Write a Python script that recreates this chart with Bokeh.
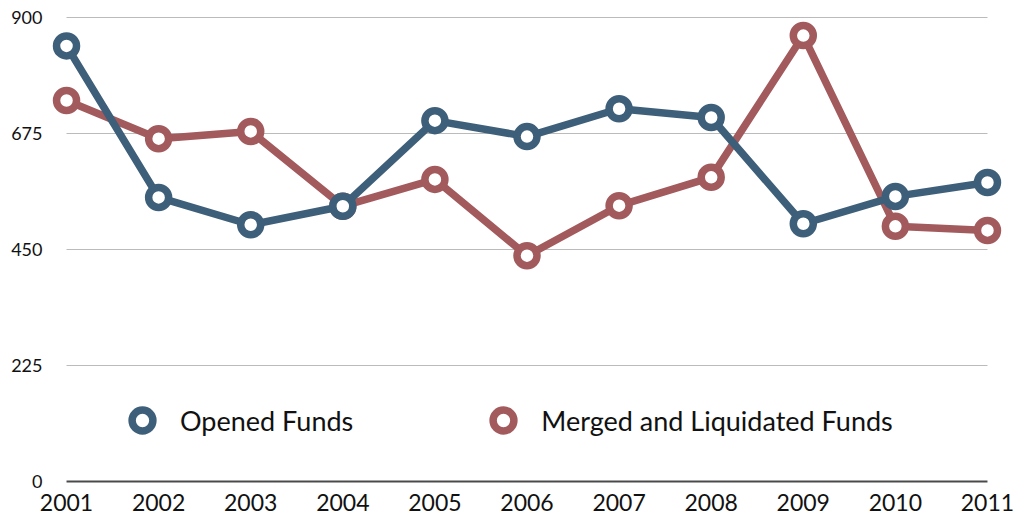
from bokeh.plotting import figure
from bokeh.models import Range1d, FixedTicker, Legend, LegendItem, ColumnDataSource
from bokeh.embed import file_html
from bokeh.resources import INLINE

years = [2001, 2002, 2003, 2004, 2005, 2006, 2007, 2008, 2009, 2010, 2011]
opened = [845, 551, 498, 534, 700, 669, 723, 706, 500, 553, 580]
merged = [739, 665, 679, 534, 586, 438, 535, 590, 865, 495, 487]
y_ticks = [0, 225, 450, 675, 900]

BLUE = "#3E5F79"
RED = "#A25A5D"
FONT = "Lato"

p = figure(width=1024, height=522, output_backend="svg", toolbar_location=None,
           x_range=Range1d(2000.75, 2011.25), y_range=Range1d(-5.8, 917.5),
           min_border_left=43, min_border_right=14, min_border_top=8, min_border_bottom=38)
p.outline_line_color = None
p.xgrid.visible = False
p.ygrid.visible = False

# gridlines spanning first to last year
grid_src = ColumnDataSource(dict(x0=[years[0]] * (len(y_ticks) - 1), x1=[years[-1]] * (len(y_ticks) - 1),
                                 y=y_ticks[1:]))
p.segment(x0="x0", x1="x1", y0="y", y1="y", source=grid_src, line_color="#BBBBBB", line_width=1.2)
p.segment(x0=[years[0]], x1=[years[-1]], y0=[y_ticks[0]], y1=[y_ticks[0]], line_color="#4A4A4A", line_width=2)

r_line = p.line(years, merged, line_color=RED, line_width=7.5)
r_pts = p.scatter(years, merged, size=20, fill_color="white", line_color=RED, line_width=7.5)
b_line = p.line(years, opened, line_color=BLUE, line_width=7.5)
b_pts = p.scatter(years, opened, size=20, fill_color="white", line_color=BLUE, line_width=7.5)

for ax in (p.xaxis[0], p.yaxis[0]):
    ax.axis_line_color = None
    ax.major_tick_line_color = None
    ax.minor_tick_line_color = None
    ax.major_tick_in = 0
    ax.major_tick_out = 0
    ax.minor_tick_in = 0
    ax.minor_tick_out = 0
    ax.major_label_text_font = FONT
    ax.major_label_text_color = "#111111"

p.xaxis[0].ticker = FixedTicker(ticks=years)
p.xaxis[0].major_label_overrides = {y: str(y) for y in years}
p.xaxis[0].major_label_text_font_size = "23px"
p.xaxis[0].major_label_standoff = 9
p.yaxis[0].ticker = FixedTicker(ticks=y_ticks)
p.yaxis[0].major_label_text_font_size = "18px"
p.yaxis[0].major_label_standoff = 1

legend = Legend(items=[LegendItem(label="Opened Funds", renderers=[b_pts]),
                       LegendItem(label="Merged and Liquidated Funds", renderers=[r_pts])],
                orientation="horizontal", location=(73, 38),
                glyph_width=52, glyph_height=52, label_standoff=12, spacing=124,
                padding=0, margin=0, border_line_color=None, background_fill_alpha=0,
                label_text_font=FONT, label_text_font_size="27px", label_text_color="#111111")
p.add_layout(legend, "center")

open("out.html", "w").write(file_html(p, INLINE))
